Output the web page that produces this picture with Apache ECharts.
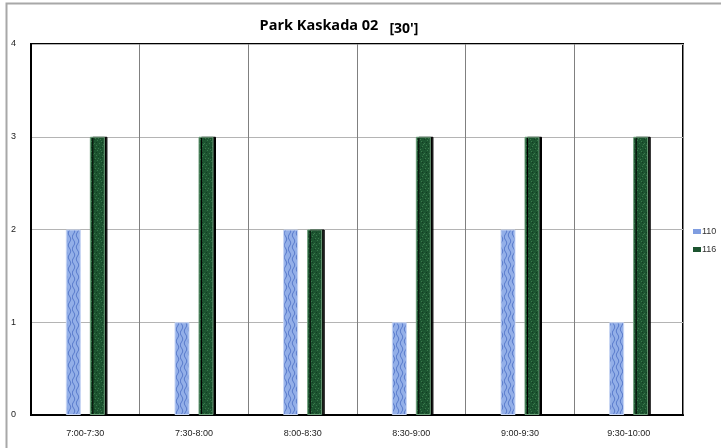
<!DOCTYPE html>
<html><head><meta charset="utf-8">
<script src="https://cdn.jsdelivr.net/npm/echarts@6/dist/echarts.min.js"></script>
<style>html,body{margin:0;padding:0;background:#fff}#c{width:721px;height:448px}</style>
</head><body><div id="c"></div>
<script>
const categories = ['7:00-7:30','7:30-8:00','8:00-8:30','8:30-9:00','9:00-9:30','9:30-10:00'];
const s110 = [2,1,2,1,2,1];
const s116 = [3,3,2,3,3,3];
const yTicks = [0,1,2,3,4];

function makeBlue(){
  const c=document.createElement('canvas');c.width=12;c.height=12;
  const g=c.getContext('2d');
  g.fillStyle='#93afe8';g.fillRect(0,0,12,12);
  g.strokeStyle='#5a7ccc';g.lineWidth=1;
  for(let k=0;k<3;k++){
    g.beginPath();
    for(let y=0;y<=12;y++){const x=k*4+1.5+Math.sin(y/12*2*Math.PI+k)*1.2; if(y===0)g.moveTo(x,y);else g.lineTo(x,y);}
    g.stroke();
  }
  return c;
}
function makeGreen(){
  const c=document.createElement('canvas');c.width=10;c.height=10;
  const g=c.getContext('2d');
  g.fillStyle='#1c5430';g.fillRect(0,0,10,10);
  g.fillStyle='#3a7a4c';
  const pts=[[1,1],[4,3],[7,0],[2,6],[6,5],[8,8],[0,9],[5,8],[3,4],[9,3]];
  pts.forEach(p=>g.fillRect(p[0],p[1],1,1));
  g.fillStyle='#123d22';
  [[2,2],[6,2],[8,6],[1,7],[4,9]].forEach(p=>g.fillRect(p[0],p[1],1,1));
  return c;
}

const chart = echarts.init(document.getElementById('c'),null,{renderer:'canvas'});
chart.setOption({
  animation:false,
  title:{text:'{a|Park Kaskada 02} {b|[30\']}',left:334,top:11,textAlign:'center',
    textStyle:{rich:{a:{fontFamily:'Open Sans',fontWeight:'bold',fontSize:14.5,color:'#000'},
      b:{fontFamily:'Open Sans',fontWeight:'bold',fontSize:14,color:'#000',padding:[6,0,0,6]}}}},
  graphic:[{type:'rect',shape:{x:6.5,y:3.5,width:800,height:600},style:{fill:'none',stroke:'#a8a8a8',lineWidth:2},silent:true,z:-1}],
  legend:{orient:'vertical',left:693,top:227,padding:0,itemWidth:8,itemHeight:5,itemGap:9,icon:'rect',
    textStyle:{fontFamily:'Liberation Sans',fontSize:9,color:'#333',padding:[0,0,0,-4]},
    data:[{name:'110',itemStyle:{color:'#7f9de0',borderWidth:0,shadowOffsetX:0}},{name:'116',itemStyle:{color:'#1c5430',borderWidth:0,shadowOffsetX:0}}]},
  grid:{left:31,right:38,top:44,bottom:33,show:true,borderColor:'#000',borderWidth:2,backgroundColor:'transparent'},
  xAxis:{type:'category',data:categories,
    axisLine:{lineStyle:{color:'#000',width:2}},axisTick:{show:false},
    splitLine:{show:true,lineStyle:{color:'#808080',width:1}},
    axisLabel:{fontFamily:'Liberation Sans',fontSize:9,color:'#222',margin:14}},
  yAxis:{type:'value',min:0,max:4,interval:1,
    axisLine:{show:true,lineStyle:{color:'#000',width:2}},axisTick:{show:false},
    splitLine:{lineStyle:{color:'#b4b4b4',width:1}},
    axisLabel:{fontFamily:'Liberation Sans',fontSize:9,color:'#222',margin:15,
      formatter:v=>yTicks.includes(v)?String(v):''}},
  series:[
    {name:'110',type:'bar',data:s110,barWidth:15,barGap:'60%',
      itemStyle:{color:{image:makeBlue(),repeat:'repeat'},borderColor:'#c8d6f4',borderWidth:1}},
    {name:'116',type:'bar',data:s116,barWidth:15,
      itemStyle:{color:{image:makeGreen(),repeat:'repeat'},borderColor:'#6fa07c',borderWidth:1,
        shadowColor:'#000',shadowOffsetX:2.5,shadowOffsetY:0,shadowBlur:0}}
  ]
});
</script></body></html>
